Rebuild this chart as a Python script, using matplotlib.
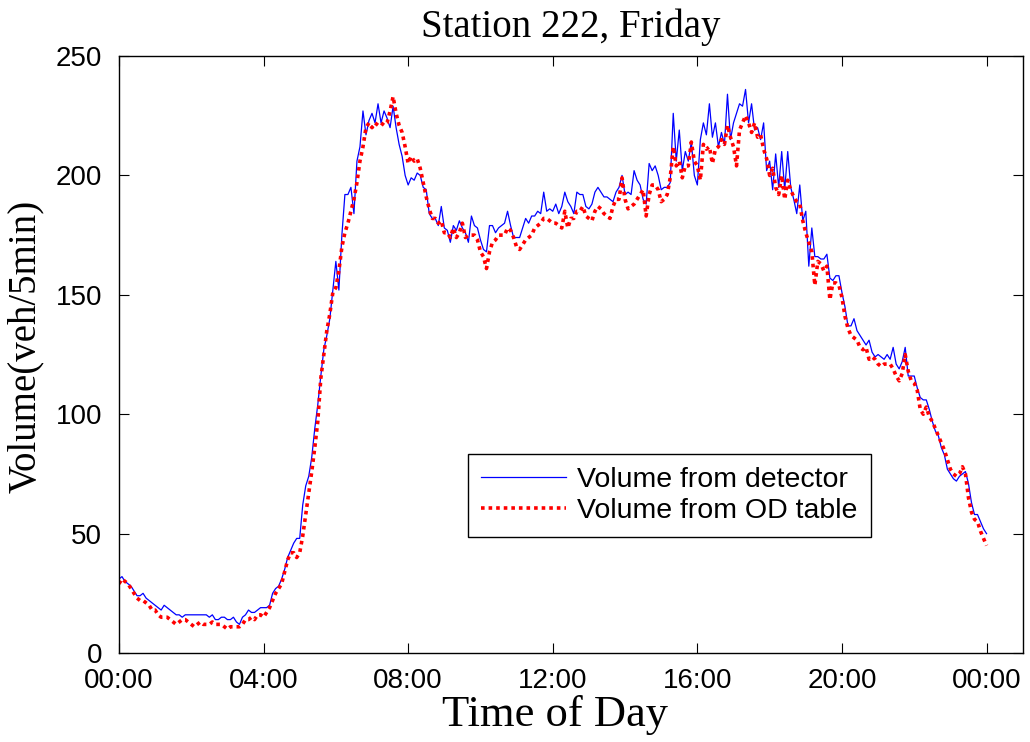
import numpy as np
import matplotlib
matplotlib.use("Agg")
import matplotlib.pyplot as plt

# 5-minute volumes, 00:00 .. 24:00 (289 points)
det = [31, 32, 30, 29, 28, 26, 24, 24, 25, 23, 22, 21,
       20, 19, 18, 20, 19, 18, 17, 16, 16, 15, 16, 16,
       16, 16, 16, 16, 16, 16, 15, 16, 14, 14, 15, 15,
       14, 14, 15, 13, 12, 15, 16, 18, 17, 17, 18, 19,
       19, 19, 20, 25, 27, 28, 31, 35, 40, 43, 46, 48,
       48, 62, 70, 74, 82, 94, 104, 116, 127, 133, 140, 152,
       164, 152, 175, 192, 192, 195, 184, 206, 212, 227, 217, 223,
       226, 222, 230, 222, 227, 224, 220, 229, 220, 213, 208, 200,
       196, 199, 198, 201, 200, 195, 194, 184, 182, 182, 179, 187,
       178, 177, 172, 179, 177, 181, 178, 176, 172, 183, 179, 178,
       173, 169, 168, 179, 179, 176, 178, 179, 180, 185, 179, 174,
       174, 174, 178, 182, 180, 183, 183, 185, 184, 193, 185, 186,
       185, 188, 184, 187, 193, 189, 187, 184, 193, 192, 192, 187,
       186, 188, 193, 195, 193, 191, 191, 190, 189, 193, 195, 200,
       192, 193, 192, 202, 198, 196, 190, 188, 205, 202, 204, 200,
       194, 195, 195, 197, 226, 206, 219, 202, 210, 206, 214, 200,
       196, 215, 222, 217, 230, 216, 222, 212, 218, 213, 234, 215,
       222, 226, 230, 229, 236, 222, 230, 219, 220, 215, 222, 202,
       206, 194, 209, 195, 210, 194, 210, 195, 190, 184, 196, 181,
       185, 162, 178, 166, 166, 165, 165, 167, 157, 156, 158, 158,
       151, 145, 137, 137, 140, 135, 133, 131, 129, 131, 126, 124,
       125, 124, 123, 125, 123, 128, 121, 119, 122, 128, 116, 116,
       116, 111, 107, 106, 106, 102, 97, 93, 91, 86, 83, 77,
       75, 73, 72, 74, 75, 76, 71, 63, 58, 58, 55, 52,
       50]

od = [29, 31, 30, 29, 27, 25, 23, 22, 22, 21, 20, 18,
      18, 16, 15, 15, 15, 14, 13, 12, 13, 14, 14, 13,
      12, 11, 12, 13, 12, 12, 12, 13, 12, 12, 12, 11,
      10, 11, 11, 11, 11, 12, 14, 14, 15, 14, 16, 16,
      15, 17, 19, 22, 25, 27, 29, 34, 39, 42, 42, 40,
      42, 49, 58, 67, 76, 86, 97, 115, 125, 135, 142, 151,
      153, 160, 170, 176, 180, 185, 190, 197, 206, 212, 220, 222,
      220, 222, 221, 222, 221, 222, 227, 233, 226, 221, 218, 212,
      205, 208, 206, 207, 203, 197, 191, 186, 182, 182, 180, 181,
      176, 176, 174, 178, 174, 176, 180, 174, 175, 175, 175, 173,
      168, 166, 161, 168, 172, 173, 175, 175, 175, 178, 177, 174,
      170, 169, 171, 173, 174, 175, 178, 179, 180, 182, 182, 181,
      180, 180, 179, 178, 185, 178, 182, 182, 185, 185, 187, 183,
      182, 181, 185, 187, 186, 184, 183, 182, 187, 190, 190, 199,
      190, 186, 187, 188, 190, 192, 194, 183, 192, 196, 196, 194,
      189, 190, 192, 199, 212, 204, 206, 199, 204, 204, 214, 206,
      204, 198, 213, 211, 212, 205, 211, 212, 215, 213, 221, 216,
      212, 204, 219, 222, 225, 222, 218, 222, 216, 217, 211, 207,
      200, 203, 195, 192, 200, 190, 198, 194, 191, 189, 188, 181,
      176, 172, 168, 154, 164, 163, 160, 162, 148, 155, 155, 154,
      149, 141, 136, 133, 132, 131, 128, 127, 128, 123, 124, 123,
      121, 120, 121, 121, 121, 119, 116, 114, 117, 125, 118, 114,
      113, 110, 102, 100, 103, 99, 97, 94, 91, 88, 85, 81,
      77, 75, 74, 75, 78, 75, 65, 59, 56, 55, 51, 48,
      45]

t = np.arange(len(det)) * 5  # minutes
tick_pos = [0, 240, 480, 720, 960, 1200, 1440]
tick_lab = ["00:00", "04:00", "08:00", "12:00", "16:00", "20:00", "00:00"]

sans = "Liberation Sans"
serif = "Liberation Serif"

fig = plt.figure(figsize=(10.3, 7.42), dpi=100)
ax = fig.add_axes([0.1155, 0.1199, 0.8774, 0.8046])

ax.plot(t, det, color="blue", lw=0.9, label="Volume from detector")
ax.plot(t, od, color="red", lw=2.6, linestyle=(0, (1, 1.1)),
        dash_capstyle="butt", label="Volume from OD table")

ax.set_xlim(0, 1500)
ax.set_ylim(0, 250)
ax.set_xticks(tick_pos)
ax.set_xticklabels(tick_lab)
ax.set_yticks([0, 50, 100, 150, 200, 250])

ax.tick_params(direction="in", length=7, width=0.8, top=True, right=True,
               labelsize=20)
ax.tick_params(axis="x", pad=11)
ax.tick_params(axis="y", pad=12)
for lab in ax.get_xticklabels() + ax.get_yticklabels():
    lab.set_family(sans)
for s in ax.spines.values():
    s.set_linewidth(1.0)

ax.set_title("Station 222, Friday", family=serif, fontsize=28, pad=14)
ax.set_xlabel("Time of Day", family=serif, fontsize=32)
ax.set_ylabel("Volume(veh/5min)", family=serif, fontsize=28)
ax.xaxis.set_label_coords(0.482, -0.07)
ax.yaxis.set_label_coords(-0.083, 0.514)

leg = ax.legend(loc="lower left", bbox_to_anchor=(0.386, 0.194),
                borderaxespad=0, fancybox=False, framealpha=1,
                edgecolor="black", prop={"family": sans, "size": 20.5},
                handlelength=3.0, handletextpad=0.4, labelspacing=0.2,
                borderpad=0.45)
leg.get_frame().set_linewidth(1.0)

fig.savefig("out.png", dpi=100)
